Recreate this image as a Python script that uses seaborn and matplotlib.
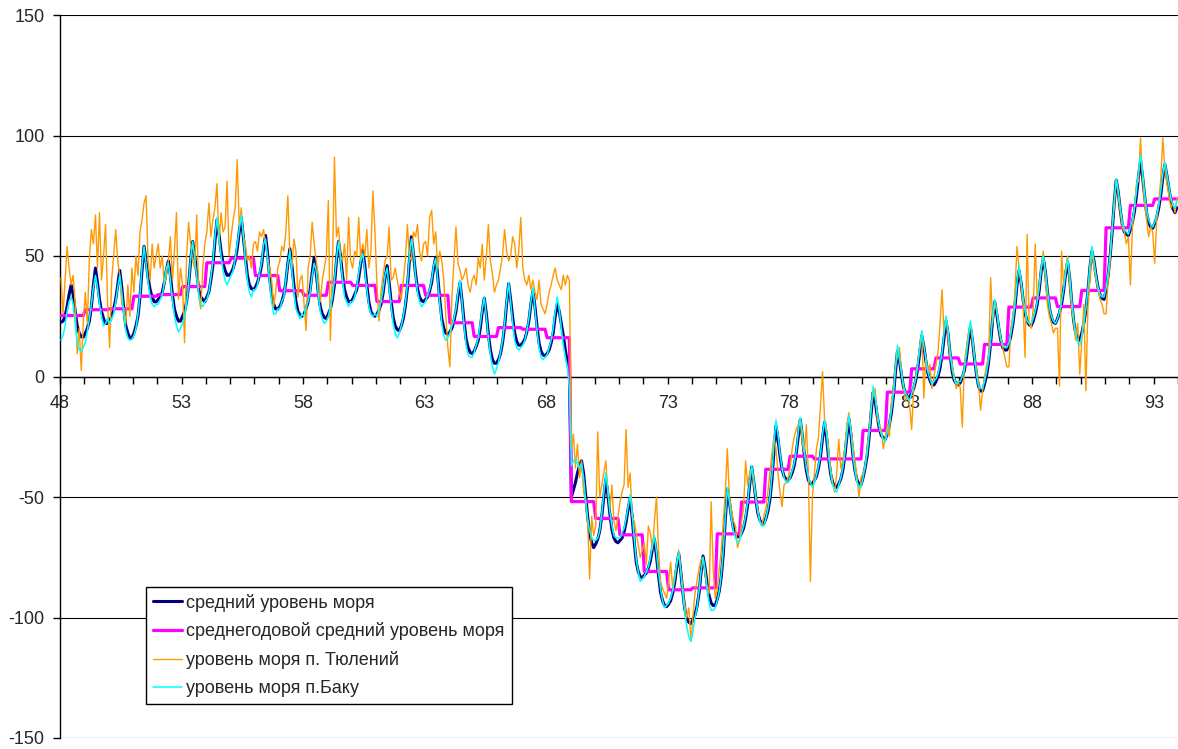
import numpy as np
import pandas as pd
import matplotlib
matplotlib.use("Agg")
import matplotlib.pyplot as plt
import seaborn as sns

# ---------------- data ----------------
years = list(range(48, 94))          # 1948 .. 1993, monthly values
months = list(range(12))

x_labels = ["48", "53", "58", "63", "68", "73", "78", "83", "88", "93"]
y_ticks = [-150, -100, -50, 0, 50, 100, 150]

series_names = [
    "средний уровень моря",
    "среднегодовой средний уровень моря",
    "уровень моря п. Тюлений",
    "уровень моря п.Баку",
]

# mean sea level (monthly)
mean_level = [
    22.5, 23, 25, 29, 34, 38, 34, 27, 21, 18, 16.5, 16.3,
    18, 20, 23, 29, 38, 45, 39, 32, 27, 24, 22, 22,
    23, 25, 28, 32, 38, 44, 37, 28, 21, 18, 16, 16,
    18, 21, 25, 33, 44, 54, 48, 41, 36, 33, 31, 31,
    32, 33, 35, 39, 44, 48, 42, 34, 28, 25, 23, 23,
    25, 27, 31, 38, 48, 56, 50, 43, 36, 33, 32, 31,
    33, 35, 40, 46, 56, 65, 59, 52, 47, 44, 42, 42,
    43, 45, 48, 53, 60, 66, 58, 50, 42, 38, 36.5, 36,
    37, 39, 42, 46, 53, 58.5, 51, 41, 34, 30, 28, 28,
    29, 31, 34, 39, 47, 53, 46, 38, 31, 27, 25.5, 25,
    26, 28, 31, 36, 43, 49.5, 43, 35, 29, 26, 24.5, 24,
    26, 28, 32, 38, 48, 56, 50, 42, 36, 33, 31, 31,
    32, 34, 36, 41, 47, 52.5, 46, 38, 31, 27, 25.5, 25,
    26, 27.5, 30, 34.5, 41, 46, 39, 31, 24.5, 21, 19.5, 19,
    21, 24, 29, 36.5, 48, 58, 51, 43, 36.5, 33, 31.5, 31,
    32, 33, 35.5, 39, 45, 49.5, 41.5, 32, 24, 20, 18, 17.5,
    18.5, 20, 23, 27, 33.5, 39, 31.5, 23, 15.5, 12, 10, 9.5,
    10.5, 12.5, 15, 20, 27, 32.5, 26, 17.5, 11, 7, 5.5, 5.5,
    7, 9.5, 14, 20.5, 30, 38.5, 32, 24.5, 18, 14.5, 13, 13,
    14, 15.5, 18.5, 23, 30, 35.5, 29, 21, 14, 10.5, 9, 8.5,
    9.5, 11, 14, 18, 25, 30, 27, 22, 17, 11, 6, 2,
    -50, -47, -44, -40, -37, -35, -40, -49, -58, -65, -69, -71,
    -69.5, -67.5, -64, -58, -50, -42.5, -49, -57, -63.5, -67, -68.5, -69,
    -68, -67, -64.5, -60.5, -55, -50.5, -58.5, -68.5, -77, -81, -83, -83.5,
    -82.5, -81.5, -79.5, -76.5, -71.5, -67.5, -74.5, -82.5, -89.5, -93, -95, -95.5,
    -94.5, -93, -90, -85.5, -79, -73.5, -81, -89.5, -96.5, -100.5, -102, -102.5,
    -101, -99, -95.5, -90, -81.5, -74.5, -79.5, -86, -91, -94, -95, -95,
    -92.5, -89, -83, -73.5, -59, -47, -52, -58, -63, -65.5, -66.5, -66.5,
    -65, -63, -59, -53.5, -45, -37.5, -43.5, -50.5, -56.5, -59.5, -61, -61,
    -59, -56, -51, -43, -31, -20.5, -26, -33, -38.5, -41.5, -42.5, -43,
    -42, -40, -37, -32, -25, -18, -24.5, -32.5, -39, -43, -44.5, -44.5,
    -43, -41.5, -38, -33, -25.5, -19, -25.5, -34, -40.5, -44, -45.5, -46,
    -44.5, -42.5, -39, -33, -25, -17.5, -24, -32.5, -39, -43, -44.5, -45,
    -42, -38, -33, -25, -15, -6.5, -10.5, -16.5, -21.5, -24.5, -25.5, -26,
    -23.5, -20, -15, -8, 2, 10.5, 6.5, 0.5, -4.5, -7, -8.5, -8.5,
    -7, -5, -1.5, 3.5, 10, 17, 12.5, 6.5, 1.5, -1.5, -3.5, -3.5,
    -2, 0, 3.5, 9, 16, 23, 17.5, 9, 2, -1.5, -3, -3.5,
    -2.5, -0.5, 2.5, 7.5, 14.5, 20.5, 15, 7.5, 1, -4, -6, -6,
    -3, 0.5, 6, 14, 24, 31, 26, 20, 15, 12, 11, 11,
    13.5, 17, 22, 29, 38, 44, 39, 32, 26, 23, 21.5, 21,
    23, 26, 30, 36, 44, 49, 43.5, 35.5, 28.5, 24.5, 22.5, 22,
    24, 26.5, 30, 35.5, 42.5, 47.5, 41, 31, 23, 18, 15.5, 15,
    18, 22, 27.5, 35, 45, 52, 48, 42, 37, 34, 32.5, 32,
    36, 42, 50, 60, 72, 81.5, 76.5, 69, 63, 60, 59, 58.5,
    61, 64, 68.5, 75, 83, 89.5, 83, 75, 68, 64, 62, 61.5,
    63.5, 66, 70, 75.5, 82.5, 88, 83.5, 78, 73, 69.5, 68, 70,
]

# annual mean sea level (one value per year)
annual_mean = [
    25.3, 27.7, 28.1, 33.3, 34.0, 37.3, 47.2, 49.1, 41.9, 35.6,
    33.7, 39.1, 37.8, 31.1, 37.8, 33.7, 22.3, 16.6, 20.3, 19.6,
    16.1, -51.9, -58.9, -65.7, -80.9, -88.5, -87.7, -65.3, -52.1, -38.5,
    -33.1, -34.2, -34.2, -22.4, -6.5, 3.2, 7.7, 5.2, 13.3, 28.8,
    32.6, 29.0, 35.7, 61.7, 71.0, 73.7,
]

# sea level, Tyuleniy island (monthly)
tyuleniy = [
    41, 26, 40, 54, 45, 38, 42, 30, 9.5, 20, 2.5, 22.5,
    35, 22, 49, 61, 55, 67, 45, 68, 40, 50, 63, 30,
    12, 40, 50, 61, 48, 42, 30, 28, 22, 38, 25, 45,
    35, 50, 42, 60, 65, 72, 75, 48, 40, 55, 45, 50,
    55, 45, 50, 38, 42, 48, 58, 40, 52, 68, 32, 45,
    38, 14, 50, 64, 55, 48, 45, 67, 33, 28, 45, 55,
    60, 72, 58, 65, 70, 80, 55, 68, 60, 62, 81, 50,
    58, 65, 70, 90, 62, 70, 58, 55, 48, 50, 45, 55,
    56, 52, 60, 58, 61, 55, 49, 45, 40, 29, 35, 45,
    48, 54, 52, 60, 75, 50, 45, 57, 52, 33, 40, 42,
    30, 19, 45, 50, 64, 55, 48, 42, 31, 40, 45, 50,
    73, 15, 45, 91, 58, 62, 50, 48, 55, 40, 66, 48,
    45, 52, 50, 66, 48, 55, 50, 61, 45, 52, 77, 60,
    38, 23, 35, 42, 48, 50, 62, 40, 41, 45, 40, 35,
    32, 40, 48, 63, 50, 48, 60, 58, 63, 52, 48, 55,
    56, 50, 66, 69, 55, 60, 45, 52, 48, 40, 25, 12,
    4, 33, 48, 62, 47, 44, 40, 42, 45, 38, 35, 40,
    42, 38, 49.5, 45, 55, 40, 50, 63, 48, 42.7, 35, 38,
    40, 45, 50, 61, 52, 48, 50, 58, 55, 45, 52, 66,
    45, 40, 38, 42, 36, 40, 35, 32, 40, 30, 28, 26,
    30, 35, 38, 42, 45, 40, 38, 36, 42, 38, 42, 40,
    -30, -24, -38, -28, -42, -35, -48, -52, -60, -84, -58, -66,
    -62, -23, -50, -45, -40, -35, -48, -55, -45, -60, -64, -58,
    -52, -48, -45, -22, -46, -40, -58, -60, -65, -70, -75, -72,
    -69, -78, -62, -65, -72, -60, -50, -72, -85, -88, -90, -92,
    -85, -77, -88, -82, -78, -72, -80, -88, -95, -100, -96, -109.5,
    -100, -90, -85, -80, -76, -75, -82, -88, -90, -52, -80, -92,
    -88, -80, -72, -60, -48, -30, -50, -55, -60, -62, -71, -68,
    -60, -55, -35, -45, -40, -38, -45, -50, -55, -60, -62, -58,
    -55, -48, -40, -32, -25, -30, -40, -48, -54, -45, -44, -42,
    -38, -30, -25, -22, -20, -18, -28, -32, -20, -40, -85, -50,
    -40, -30, -25, -12, 2, -18, -22, -30, -38, -44, -48, -40,
    -26, -38, -35, -30, -20, -15, -22, -28, -35, -42, -50, -42,
    -40, -38, -30, -22, -12, -8, -5, -18, -20, -22, -30, -25,
    -20, -25, -10, -5, 5, 8, 12, 2, -5, -10, -8, -12,
    -22, -5, 0, 5, 12, 18, -9, 8, 2, 5, -5, 0,
    5, 10, 22, 36, 18, 25, 15, 8, 5, 0, -5, -2,
    -5, -21, 5, 12, 18, 22, 14, 8, 3, -2, -14, -6,
    0, 5, 8, 41, 22, 30, 28, 20, 15, 12, 8, 4,
    4, 20, 25, 35, 54, 45, 38, 30, 8, 59, 22, 20,
    28, 55, 32, 38, 45, 52, 40, 30, 25, 22, 18, 20,
    20, -4, 52, 38, 45, 50, 38, 28, 22, 15, 22, 1,
    15, 30, -6, 28, 40, 52, 45, 40, 36, 32, 30, 26,
    26, 40, 48, 62, 70, 82, 75, 68, 62, 60, 55, 58,
    38, 62, 70, 80, 81, 99, 82, 72, 65, 58, 62, 60,
    47, 65, 72, 82, 99, 86, 80, 75, 70, 72, 68, 74,
]

# sea level, Baku (monthly)
baku = [
    15, 17, 21, 27, 31, 33, 30, 22, 14, 11, 10.5, 12,
    14, 19, 24, 30, 37, 42, 37, 30, 25, 21, 22, 24,
    22, 24, 26, 31, 37, 42, 35, 26, 19, 16, 15, 15.5,
    17, 20, 26, 34, 46, 54, 47, 39, 33, 30, 29, 30,
    30, 32, 34, 39, 45, 47, 40, 32, 25, 21, 18.5, 20,
    22, 25, 30, 38, 49, 56, 49, 41, 34, 30, 29, 31,
    32, 35, 41, 48, 58, 66, 58, 50, 44, 40, 38, 40,
    42, 44, 49, 55, 61, 67, 59, 48, 40, 35, 33, 36,
    36, 38, 43, 47, 55, 57, 49, 39, 31, 26, 26, 28,
    28, 31, 33, 40, 47, 52, 44, 35, 28, 26, 24, 26,
    25, 29, 31, 35, 42, 47, 44, 34, 27, 24, 22, 23,
    25, 29, 33, 40, 49, 56, 49, 40, 33, 31, 29, 31,
    31, 33, 37, 43, 48, 51, 44, 36, 29, 26, 25, 26,
    25, 28, 31, 36, 42, 45, 37, 29, 22, 18, 16, 18,
    21, 25, 30, 38, 50, 57, 52, 42, 35, 31, 29, 30,
    31, 34, 36, 40, 46, 49, 40, 30, 22, 17, 15, 16,
    18, 21, 24, 28, 35, 40, 31, 21, 13, 9, 8, 8,
    10, 13, 16, 22, 28, 33, 25, 16, 9, 4, 1, 3,
    6, 10, 15, 22, 31, 39, 31, 22, 15, 12, 11, 12,
    13, 15, 19, 24, 31, 37, 28, 19, 12, 8, 7, 8,
    9, 12, 15, 20, 27, 33, 28, 20, 13, 8, 4, -5,
    -37, -35, -34, -36, -38, -36, -42, -51, -59, -64, -67, -68,
    -68, -67, -64, -57, -48, -40, -47, -56, -62, -66, -67, -67,
    -67, -65, -63, -59, -54, -49, -57, -67, -76, -81, -85, -84,
    -83, -81, -79, -75, -70, -66, -73, -81, -88, -93, -96, -95,
    -94, -92, -89, -84, -78, -73, -81, -90, -98, -104, -108, -110,
    -106, -100, -96, -89, -81, -75, -80, -88, -94, -97, -97, -96,
    -93, -89, -82, -72, -58, -46, -52, -59, -64, -67, -69, -68,
    -65, -62, -58, -52, -44, -37, -42, -50, -56, -60, -62, -62,
    -59, -55, -50, -41, -28, -18, -24, -32, -38, -42, -44, -44,
    -42, -39, -36, -31, -23, -17, -23, -31, -38, -42, -44, -46,
    -44, -41, -37, -32, -24, -18, -24, -33, -40, -45, -47, -48,
    -45, -42, -38, -32, -24, -16, -23, -32, -39, -44, -46, -46,
    -42, -37, -32, -24, -14, -4, -9, -15, -21, -24, -26, -27,
    -23, -19, -14, -7, 3, 13, 7, 1, -4, -7, -9, -10,
    -7, -4, -1, 5, 12, 19, 13, 7, 2, -1, -3, -2,
    -1, 1, 5, 10, 18, 25, 19, 10, 3, -1, -3, -2,
    -2, 0, 3, 9, 16, 23, 17, 8, 1, -4, -5, -5,
    -2, 2, 7, 15, 25, 32, 27, 21, 16, 13, 12, 12,
    14, 18, 23, 30, 39, 46, 40, 33, 27, 23, 22, 22,
    24, 27, 31, 37, 45, 50, 44, 36, 29, 25, 23, 22,
    24, 27, 31, 36, 43, 49, 42, 32, 24, 18, 14, 13,
    17, 22, 28, 36, 46, 54, 48, 42, 37, 34, 33, 33,
    37, 43, 51, 61, 73, 82, 77, 70, 64, 61, 60, 59,
    62, 65, 70, 77, 85, 92, 85, 76, 69, 65, 63, 62,
    64, 67, 71, 77, 84, 89, 84, 79, 74, 71, 70, 73,
]

# ---------------- table ----------------
t = np.array([y + (m + 0.5) / 12.0 for y in years for m in months])
df = pd.DataFrame({
    "t": t,
    "mean": mean_level,
    "annual": np.repeat(annual_mean, 12),
    "tyul": tyuleniy,
    "baku": baku,
})

# ---------------- style ----------------
sns.set_style("white")
plt.rcParams["font.family"] = ["Liberation Sans", "DejaVu Sans"]

W, H = 1178, 749
fig = plt.figure(figsize=(W / 100, H / 100), dpi=100)
ax = fig.add_axes([60 / W, 11 / H, 1118 / W, 723 / H])

common = dict(ax=ax, sort=False, estimator=None)
sns.lineplot(data=df, x="t", y="mean", color="#000080", lw=2.2,
             label=series_names[0], zorder=3, **common)
sns.lineplot(data=df, x="t", y="annual", color="#FF00FF", lw=2.3,
             label=series_names[1], zorder=4, **common)
sns.lineplot(data=df, x="t", y="tyul", color="#FF9900", lw=1.0,
             label=series_names[2], zorder=5, **common)
sns.lineplot(data=df, x="t", y="baku", color="#00FFFF", lw=1.1,
             label=series_names[3], zorder=6, **common)

ax.set_xlim(48, 94)
ax.set_ylim(-150, 150)

# y axis
ax.set_yticks(y_ticks)
ax.set_yticklabels([str(v) for v in y_ticks])
ax.yaxis.grid(True, color="black", lw=0.8)
ax.xaxis.grid(False)
ax.set_axisbelow(True)

# x axis crossing at 0, a tick every year, label every 5 years
tick_years = list(range(48, 95))
ax.set_xticks(tick_years)
ax.set_xticklabels([str(y) if str(y) in x_labels else "" for y in tick_years])
ax.spines["bottom"].set_position(("data", 0))
ax.spines["bottom"].set_color("black")
ax.spines["bottom"].set_linewidth(1.0)
ax.spines["left"].set_color("black")
ax.spines["left"].set_linewidth(1.0)
ax.spines["top"].set_visible(False)
ax.spines["right"].set_visible(False)

ax.tick_params(axis="x", direction="out", length=5, width=1, color="black",
               labelsize=13, pad=8, bottom=True)
ax.tick_params(axis="y", direction="out", length=5, width=1, color="black",
               labelsize=13, pad=6, left=True)
ax.set_xlabel("")
ax.set_ylabel("")

leg = ax.legend(loc="lower left", bbox_to_anchor=(86 / 1118, 34 / 723),
                borderaxespad=0, frameon=True, fancybox=False, shadow=False,
                fontsize=13, handlelength=1.6, handletextpad=0.25,
                labelspacing=0.6, borderpad=0.38, framealpha=1)
leg.get_frame().set_edgecolor("black")
leg.get_frame().set_linewidth(1.0)
leg.set_zorder(10)

fig.savefig("out.png", dpi=100)
